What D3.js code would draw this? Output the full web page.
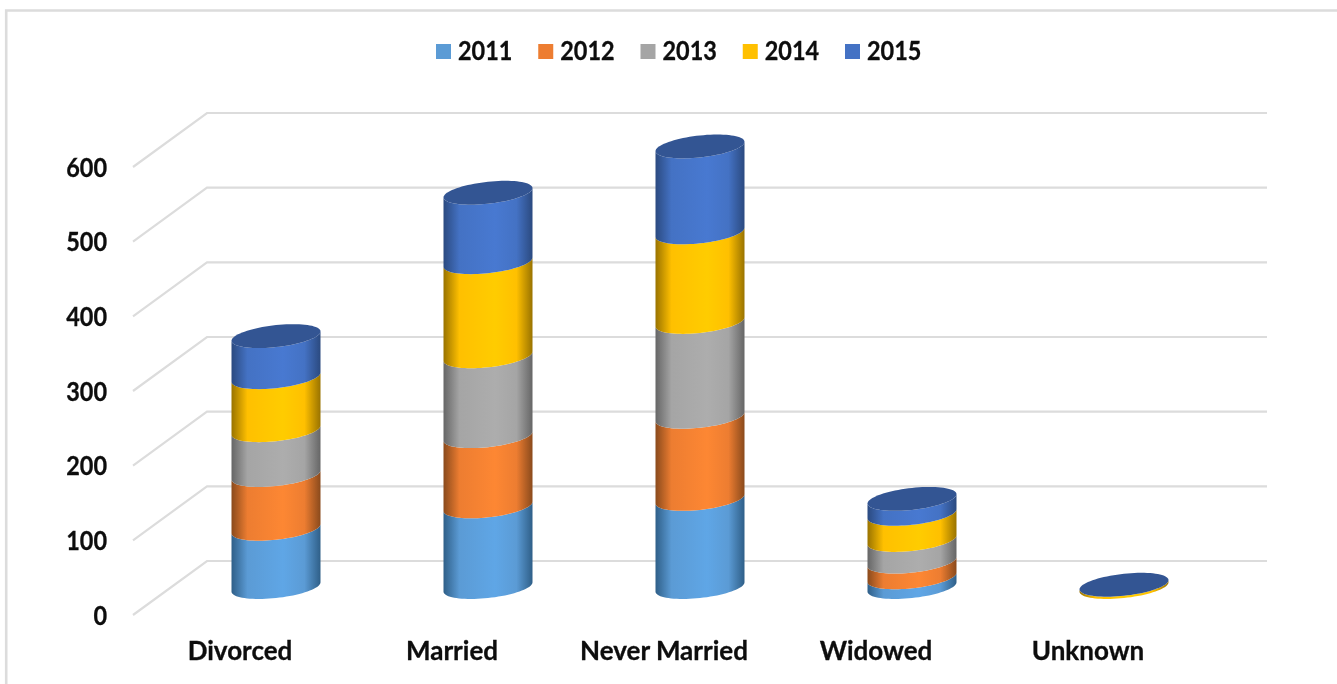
<!DOCTYPE html>
<html><head><meta charset="utf-8"><style>
html,body{margin:0;padding:0;background:#fff;overflow:hidden}
svg{display:block;filter:blur(0.45px)}
text{font-family:Lato,"Noto Sans",sans-serif;font-weight:700;fill:#0d0d0d;stroke:#0d0d0d;stroke-width:0.3px}
</style></head><body><svg id="c" width="1337" height="684"></svg>
<script src="https://cdn.jsdelivr.net/npm/d3@7"></script>
<script>
const categories=["Divorced","Married","Never Married","Widowed","Unknown"];
const seriesNames=["2011","2012","2013","2014","2015"];
const v2011=[78,108,118,13,0];
const v2012=[72,94,110,21,0];
const v2013=[60,107,127,29,0];
const v2014=[71,126,120,35,3];
const v2015=[55,93,115,20,0];
const seriesValues=[v2011,v2012,v2013,v2014,v2015];
const yTicks=[0,100,200,300,400,500,600];
const colors=["#5b9bd5","#ed7d31","#a5a5a5","#ffc000","#4472c4"];
const bright=["#5fa6e6","#fd8733","#adadad","#ffcc00","#4879d1"];
const dark=["#2f5f88","#8a4a1c","#666666","#997300","#2b4a80"];
const topColor="#335593";

const svg=d3.select("#c");
const W=1337,H=684;
const depthX=-74,depthY=54;
const y=d3.scaleLinear().domain([0,600]).range([561,113]);
const xBack=d3.scaleBand().domain(categories).range([207,1267]);
const xFront=d3.scaleBand().domain(categories).range([134,1194]);
const cx=c=>xBack(c)+xBack.bandwidth()/2+depthX/2;
const cyOf=v=>y(v)+depthY/2-1;
const a=44.5,b=11,k=0.105;
const digitW=13.6;

// frame: only the top and left edges show
svg.append("path").attr("fill","none").attr("stroke","#dcdcdc").attr("stroke-width",2.6)
  .attr("d",d3.line()([[6.2,H],[6.2,10.5],[W,10.5]]));

// gradients
const defs=svg.append("defs");
seriesNames.forEach((s,i)=>{
  const g=defs.append("linearGradient").attr("id","g"+i).attr("x1",0).attr("x2",1).attr("y1",0).attr("y2",0);
  [[0,dark[i]],[0.18,colors[i]],[0.58,bright[i]],[0.82,colors[i]],[1,dark[i]]].forEach(([o,col])=>
    g.append("stop").attr("offset",o).attr("stop-color",col));
});

// grid
const grid=svg.append("g").attr("fill","none").attr("stroke","#dcdcdc").attr("stroke-width",2.2);
yTicks.forEach(t=>{
  grid.append("path").attr("d",d3.line()([[xBack.range()[0]+depthX,y(t)+depthY],[xBack.range()[0],y(t)],[xBack.range()[1],y(t)]]));
});

// y axis labels
const yAxis=svg.append("g").attr("transform",`translate(107,${depthY+1})`)
  .call(d3.axisLeft(y).tickValues(yTicks).tickSize(0).tickPadding(0));
yAxis.select(".domain").remove();
yAxis.selectAll("text").style("font-size","26px").attr("font-family",null)
  .attr("textLength",d=>String(d).length*digitW).attr("lengthAdjust","spacingAndGlyphs");

// x axis labels
const xAxis=svg.append("g").attr("transform","translate(0,642)")
  .call(d3.axisBottom(xFront).tickSize(0).tickPadding(0));
xAxis.select(".domain").remove();
xAxis.selectAll("text").style("font-size","26px").attr("font-family",null);

// cylinders
const ts=d3.range(0,41).map(i=>Math.PI-i*Math.PI/40);
const arc=(c,v)=>ts.map(t=>[cx(c)+a*Math.cos(t),cyOf(v)-k*a*Math.cos(t)+b*Math.sin(t)]);
const line=d3.line();
categories.forEach((c,ci)=>{
  let base=0;
  const g=svg.append("g");
  seriesValues.forEach((vals,si)=>{
    const v=vals[ci];
    if(v<=0)return;
    const top=base+v;
    const lower=arc(c,base),upper=arc(c,top).reverse();
    g.append("path").attr("fill",`url(#g${si})`).attr("d",line(lower.concat(upper))+"Z");
    base=top;
  });
  const full=d3.range(0,80).map(i=>{const t=i*Math.PI/40;
    return [cx(c)+a*Math.cos(t),cyOf(base)-k*a*Math.cos(t)+b*Math.sin(t)];});
  g.append("path").attr("fill",topColor).attr("d",line(full)+"Z");
});

// legend
const legX=d3.scalePoint().domain(seriesNames).range([436,845]);
const leg=svg.append("g");
seriesNames.forEach((s,i)=>{
  const x0=legX(s);
  leg.append("rect").attr("x",x0).attr("y",44).attr("width",15).attr("height",15).attr("fill",colors[i]);
  leg.append("text").attr("x",x0+22).attr("y",51).attr("dy","0.36em").style("font-size","26px")
    .attr("textLength",4*digitW).attr("lengthAdjust","spacingAndGlyphs").text(s);
});
</script></body></html>
